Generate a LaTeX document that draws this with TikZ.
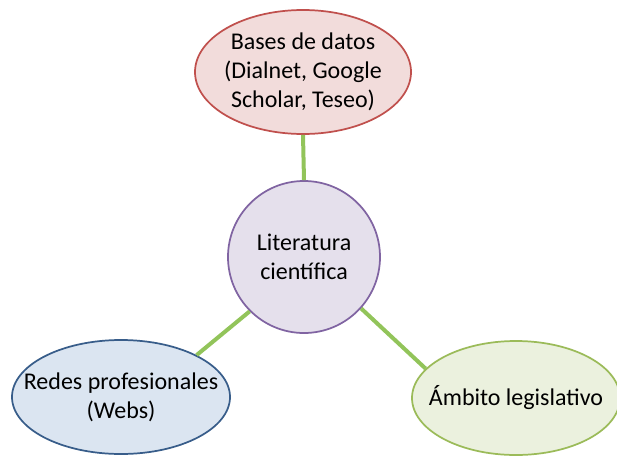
\documentclass[tikz,border=0pt]{standalone}
\usepackage{fontspec}
\setmainfont{Carlito}
\usetikzlibrary{shapes.geometric}
\definecolor{redline}{HTML}{C0504D}
\definecolor{redfill}{HTML}{F2DCDB}
\definecolor{purpline}{HTML}{8064A2}
\definecolor{purpfill}{HTML}{E5E0EC}
\definecolor{blueline}{HTML}{385D8A}
\definecolor{bluefill}{HTML}{DBE5F1}
\definecolor{greenline}{HTML}{9BBB59}
\definecolor{greenfill}{HTML}{EBF1DE}
\definecolor{conn}{HTML}{92C45A}
\tikzset{
  bubble/.style={ellipse, line width=1.3pt, inner sep=0pt},
  btext/.style={align=center, font=\fontsize{18}{21.75}\selectfont, inner sep=0pt},
  link/.style={conn, line width=3pt}
}
\begin{document}
\begin{tikzpicture}[x=0.75pt,y=-0.75pt]
\useasboundingbox (0,0) rectangle (617,457);
\begin{scope}
\clip (0,0) rectangle (617,457);
\node[bubble, draw=redline, fill=redfill, minimum width=216*0.75pt, minimum height=124*0.75pt,
  label={[btext]center:Bases de datos\\(Dialnet, Google\\Scholar, Teseo)}] (db) at (303,72) {};
\node[bubble, draw=purpline, fill=purpfill, minimum width=152*0.75pt, minimum height=152*0.75pt,
  label={[btext]center:Literatura\\científica}] (lit) at (304,257) {};
\node[bubble, draw=blueline, fill=bluefill, minimum width=218*0.75pt, minimum height=114*0.75pt,
  label={[btext]center:Redes profesionales\\(Webs)}] (red) at (121,397) {};
\node[bubble, draw=greenline, fill=greenfill, minimum width=208*0.75pt, minimum height=114*0.75pt,
  label={[btext]center:Ámbito legislativo}] (amb) at (516,398) {};
\draw[link] (db.south) -- (lit.north);
\draw[link] (lit.225) -- (red.29);
\draw[link] (lit.-42) -- (amb.162);
\end{scope}
\end{tikzpicture}
\end{document}
